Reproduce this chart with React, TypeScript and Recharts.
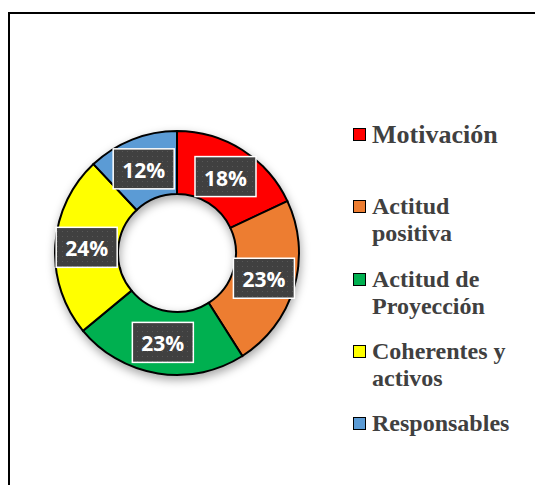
import { PieChart, Pie, Cell, Legend } from "recharts";

const categories = [
  "Motivación",
  "Actitud positiva",
  "Actitud de Proyección",
  "Coherentes y activos",
  "Responsables",
];
const percents = [18, 23, 23, 24, 12];
const colors = ["#FF0000", "#ED7D31", "#00B050", "#FFFF00", "#5B9BD5"];

const data = categories.map((name, i) => ({ name, value: percents[i] }));

const RAD = Math.PI / 180;

function renderLabel(props: any) {
  const { cx, cy, midAngle, innerRadius, outerRadius, index } = props;
  const r = (innerRadius + outerRadius) / 2;
  const x = cx + r * Math.cos(-midAngle * RAD);
  const y = cy + r * Math.sin(-midAngle * RAD);
  const w = 61;
  const h = 40;
  return (
    <g key={`lbl-${index}`}>
      <rect
        x={x - w / 2}
        y={y - h / 2}
        width={w}
        height={h}
        fill="url(#dots)"
        stroke="#ffffff"
        strokeWidth={1.5}
      />
      <text
        x={x}
        y={y + 1}
        textAnchor="middle"
        dominantBaseline="central"
        fill="#ffffff"
        fontFamily="'Open Sans', sans-serif"
        fontWeight={700}
        fontSize={21}
      >
        {`${percents[index]}%`}
      </text>
    </g>
  );
}

function renderLegend() {
  return (
    <div style={{ fontFamily: "'Liberation Serif', 'Times New Roman', serif", fontWeight: 700, color: "#404040" }}>
      {categories.map((name, i) => (
        <div key={name} style={{ display: "flex", alignItems: "flex-start", height: 72.3 }}>
          <span
            style={{
              display: "inline-block",
              width: 11,
              height: 11,
              marginTop: 7,
              marginRight: 6,
              background: colors[i],
              border: "1.5px solid #000",
              flexShrink: 0,
            }}
          />
          <span style={{ width: 145, fontSize: i === 0 ? 26 : 24, lineHeight: "27px" }}>{name}</span>
        </div>
      ))}
    </div>
  );
}

export default function App() {
  return (
    <div
      style={{
        position: "fixed",
        left: 8,
        top: 12,
        width: 545,
        height: 480,
        borderLeft: "2px solid #000",
        borderTop: "2px solid #000",
        background: "#fff",
      }}
    >
      <style>{`.recharts-pie { filter: drop-shadow(1px 4px 5px rgba(0,0,0,0.35)); }`}</style>
      <PieChart width={525} height={471}>
        <defs>
          <pattern id="dots" width="5" height="5" patternUnits="userSpaceOnUse">
            <rect width="5" height="5" fill="#404040" />
            <rect x="2" y="2" width="1" height="1" fill="#575757" />
          </pattern>
        </defs>
        <Pie
          data={data}
          dataKey="value"
          nameKey="name"
          cx={162}
          cy={234}
          innerRadius={59}
          outerRadius={122}
          startAngle={90}
          endAngle={-270}
          stroke="#000000"
          strokeWidth={2}
          label={renderLabel}
          labelLine={false}
          isAnimationActive={false}
        >
          {data.map((d, i) => (
            <Cell key={d.name} fill={colors[i]} />
          ))}
        </Pie>
        <Legend
          layout="vertical"
          content={renderLegend}
          wrapperStyle={{ left: 343, top: 107, width: 180 }}
        />
      </PieChart>
    </div>
  );
}
